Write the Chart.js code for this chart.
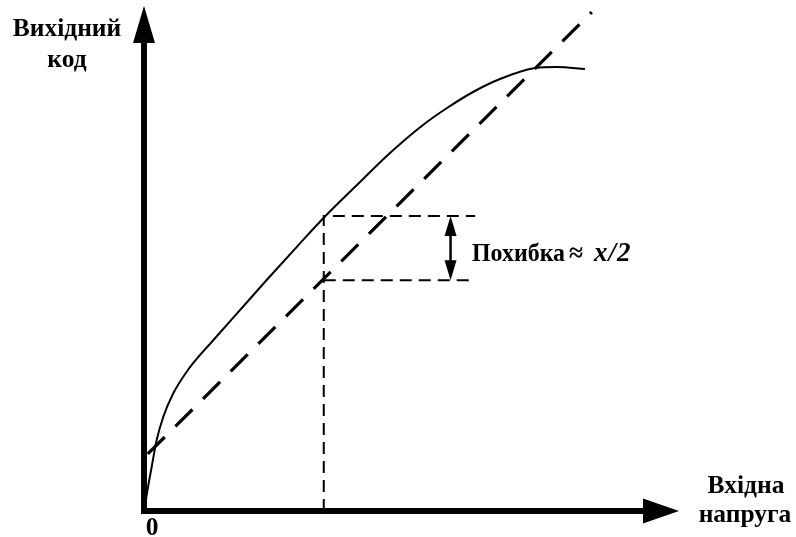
<!DOCTYPE html>
<html lang="uk">
<head>
  <meta charset="UTF-8" />
  <title>АЦП - похибка</title>
  <script src="https://cdn.jsdelivr.net/npm/chart.js"></script>
  <style>
    body { margin: 0; background: #fff; }
  </style>
</head>
<body>
  <canvas id="chart" width="796" height="537"></canvas>
  <script>
    // real (non-linear) converter characteristic
    const curveX = [0.19, 0.50, 1.44, 2.37, 3.61, 5.48, 7.98, 10.47, 12.65, 16.69, 22.93, 29.16, 33.83, 39.81, 45.98, 52.15, 56.64, 61.50, 66.54, 73.08, 77.20, 82.43];
    const curveY = [0.99, 3.17, 8.77, 14.06, 18.67, 23.31, 27.58, 30.89, 33.47, 38.28, 45.74, 53.01, 58.32, 64.55, 70.89, 76.44, 79.80, 82.97, 85.54, 87.72, 87.92, 87.52];
    // ideal straight line
    const idealX = [0.7, 83.7];
    const idealY = [11.3, 98.8];
    // error box
    const boxX = [33.6, 61.9];
    const boxY = [45.7, 58.4];
    const arrowX = 57.3;

    const serif = '"Liberation Serif", "Times New Roman", serif';
    const labelFont = 'bold 25.5px ' + serif;
    const toPts = (xs, ys) => xs.map((x, i) => ({ x: x, y: ys[i] }));

    function arrowHead(ctx, x, y, dx, dy, len, half) {
      const px = -dy, py = dx;
      ctx.beginPath();
      ctx.moveTo(x, y);
      ctx.lineTo(x - dx * len + px * half, y - dy * len + py * half);
      ctx.lineTo(x - dx * len - px * half, y - dy * len - py * half);
      ctx.closePath();
      ctx.fill();
    }

    const decor = {
      id: 'decor',
      afterDatasetsDraw(chart) {
        const { ctx, scales: { x, y } } = chart;
        const x0 = x.getPixelForValue(0), y0 = y.getPixelForValue(0);
        const xEnd = x.getPixelForValue(100), yEnd = y.getPixelForValue(100);
        ctx.save();
        ctx.fillStyle = '#000';
        ctx.strokeStyle = '#000';

        // axes
        ctx.lineWidth = 6;
        ctx.beginPath();
        ctx.moveTo(x0, yEnd + 30);
        ctx.lineTo(x0, y0);
        ctx.lineTo(xEnd - 30, y0);
        ctx.stroke();
        arrowHead(ctx, x0, yEnd, 0, -1, 37, 11);
        arrowHead(ctx, xEnd, y0, 1, 0, 36, 12.5);

        // double arrow of the error
        const ax = x.getPixelForValue(arrowX);
        const aTop = y.getPixelForValue(boxY[1]), aBot = y.getPixelForValue(boxY[0]);
        ctx.lineWidth = 2.5;
        ctx.beginPath();
        ctx.moveTo(ax, aTop + 15);
        ctx.lineTo(ax, aBot - 15);
        ctx.stroke();
        arrowHead(ctx, ax, aTop, 0, -1, 20, 6);
        arrowHead(ctx, ax, aBot, 0, 1, 20, 6);

        // texts
        ctx.font = labelFont;
        ctx.textAlign = 'center';
        ctx.textBaseline = 'alphabetic';
        ctx.fillText('Вихідний', 67, 36);
        ctx.fillText('код', 67, 67);
        ctx.fillText('Вхідна', 746, 493);
        ctx.fillText('напруга', 745, 522);
        ctx.fillText('0', 152, 535);

        ctx.textAlign = 'left';
        ctx.fillText('Похибка', 472, 261, 93);
        ctx.fillText('≈', 569, 261);
        ctx.font = 'italic bold 27px ' + serif;
        ctx.letterSpacing = '1px';
        ctx.fillText('x/2', 594, 261);
        ctx.restore();
      }
    };

    new Chart(document.getElementById('chart'), {
      type: 'scatter',
      data: {
        datasets: [
          {
            data: toPts(curveX, curveY),
            showLine: true, borderColor: '#000', borderWidth: 2,
            pointRadius: 0, cubicInterpolationMode: 'monotone'
          },
          {
            data: toPts(idealX, idealY),
            showLine: true, borderColor: '#000', borderWidth: 3.2,
            borderDash: [24, 15], pointRadius: 0
          },
          {
            data: [{ x: boxX[0], y: 0 }, { x: boxX[0], y: boxY[1] }, { x: boxX[1], y: boxY[1] }],
            showLine: true, borderColor: '#000', borderWidth: 2,
            borderDash: [12, 7], pointRadius: 0
          },
          {
            data: [{ x: boxX[0], y: boxY[0] }, { x: boxX[1], y: boxY[0] }],
            showLine: true, borderColor: '#000', borderWidth: 2,
            borderDash: [12, 7], pointRadius: 0
          }
        ]
      },
      options: {
        responsive: false,
        animation: false,
        layout: { padding: { left: 144, right: 117, top: 6, bottom: 26 } },
        plugins: { legend: { display: false }, tooltip: { enabled: false } },
        scales: {
          x: { type: 'linear', min: 0, max: 100, display: false },
          y: { type: 'linear', min: 0, max: 100, display: false }
        }
      },
      plugins: [decor]
    });
  </script>
</body>
</html>
